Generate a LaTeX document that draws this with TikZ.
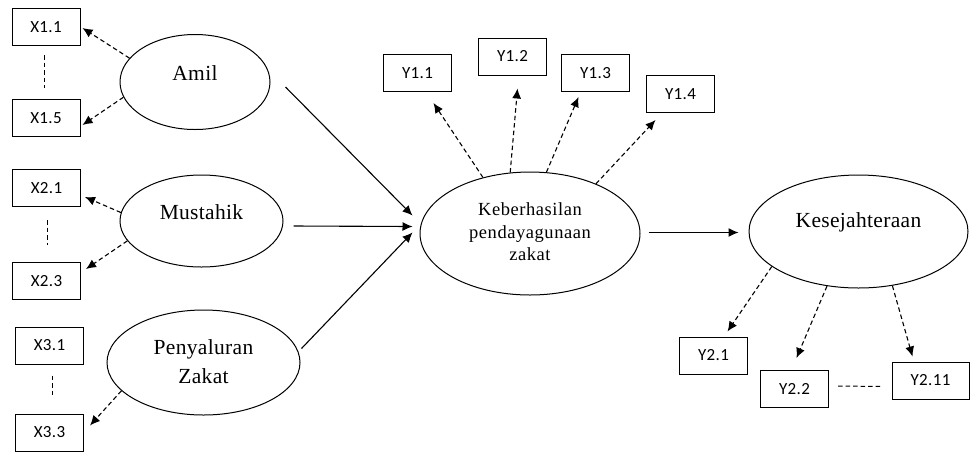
\documentclass[tikz,border=0pt]{standalone}
\usepackage{fontspec}
\setmainfont{Liberation Serif}
\newfontfamily\latfont[LetterSpace=1.5]{Liberation Serif}
\newfontfamily\kebfont[LetterSpace=3]{Liberation Serif}
\newfontfamily\boxfont[LetterSpace=2]{Carlito}
\usetikzlibrary{shapes.geometric,arrows.meta,calc}
\begin{document}
\begin{tikzpicture}[x=1pt,y=-1pt,
  ind/.style={draw, line width=1pt, minimum width=68pt, minimum height=37pt, inner sep=0pt,
    font=\boxfont\fontsize{17}{19}\selectfont},
  lat/.style={draw, ellipse, line width=1pt, inner sep=0pt},
  lattext/.style={font=\latfont\fontsize{21.5}{29}\selectfont, align=center, inner sep=0pt},
  meas/.style={line width=1.1pt, dash pattern=on 4.5pt off 3pt, -{Latex[length=10pt,width=9pt]}},
  struct/.style={line width=1.1pt, -{Latex[length=10pt,width=9pt]}},
  sepline/.style={line width=1pt, dash pattern=on 4.5pt off 3pt}]
\useasboundingbox (0,0) rectangle (971,451);
\fill[white] (0,0) rectangle (971,451);

% indicator boxes
\node[ind] (x11) at (46,27) {X1.1};
\node[ind] (x15) at (46,118) {X1.5};
\node[ind] (x21) at (46.5,188) {X2.1};
\node[ind] (x23) at (46.5,281) {X2.3};
\node[ind] (x31) at (49.5,345.5) {X3.1};
\node[ind] (x33) at (49.5,432.5) {X3.3};
\node[ind] (y11) at (417.5,73) {Y1.1};
\node[ind] (y12) at (512.5,56.5) {Y1.2};
\node[ind] (y13) at (595.5,73) {Y1.3};
\node[ind] (y14) at (680.5,94) {Y1.4};
\node[ind] (y21) at (713.5,355.5) {Y2.1};
\node[ind] (y22) at (794.5,389) {Y2.2};
\node[ind, minimum width=77pt] (y211) at (930.5,380.5) {Y2.11};

% latent variables
\node[lat, minimum width=150pt, minimum height=95pt] (amil) at (195,82) {};
\node[lattext] (amilt) at (195,73) {Amil};
\node[lat, minimum width=163pt, minimum height=92pt] (must) at (201.5,221) {};
\node[lattext] (mustt) at (201.5,212) {Mustahik};
\node[lat, minimum width=193pt, minimum height=105pt] (pen) at (203.5,362.5) {};
\node[lattext] (pent) at (203.5,362) {Penyaluran\\Zakat};
\node[lat, minimum width=220pt, minimum height=123pt] (keb) at (530,233.5) {};
\node[lattext, font=\kebfont\fontsize{18.5}{22.5}\selectfont] (kebt) at (530,232) {Keberhasilan\\pendayagunaan\\zakat};
\node[lat, minimum width=219pt, minimum height=113pt] (kes) at (858.5,231.5) {};
\node[lattext] (kest) at (858.5,222) {Kesejahteraan};

% measurement arrows
\draw[meas] (amil.160) -- ($(x11.east)+(2,1)$);
\draw[meas] (amil.192) -- ($(x15.east)+(2,7)$);
\draw[meas] (must.174) -- ($(x21.east)+(4,9)$);
\draw[meas] (must.195) -- ($(x23.east)+(5,-12)$);
\draw[meas] (pen.199) -- ($(x33.east)+(6,-7)$);
\draw[meas] (keb.130) -- ($(y11.south)+(16,11)$);
\draw[meas] (keb.108) -- ($(y12.south)+(5,13)$);
\draw[meas] (keb.75) -- ($(y13.south)+(-17,5)$);
\draw[meas] (keb.37) -- ($(y14.south)+(-25,7)$);
\draw[meas] (kes.202) -- ($(y21.north)+(14,-5)$);
\draw[meas] (kes.240) -- ($(y22.north)+(2,-12)$);
\draw[meas] (kes.302) -- ($(y211.north)+(-18,-5)$);

% separators
\draw[sepline] ($(x11.south)+(-2,9)$) -- ($(x15.north)+(-2,-11)$);
\draw[sepline] ($(x21.south)+(1,13)$) -- ($(x23.north)+(1,-17)$);
\draw[sepline] ($(x31.south)+(3,11)$) -- ($(x33.north)+(3,-16)$);
\draw[sepline] ($(y22.east)+(9,-3)$) -- ($(y211.west)+(-9,6)$);

% structural arrows
\draw[struct] ($(amil.east)+(15,5)$) -- ($(keb.west)+(-7,-18)$);
\draw[struct] ($(must.east)+(10,5)$) -- ($(keb.west)+(-7,-7)$);
\draw[struct] ($(pen.east)+(1,-14)$) -- ($(keb.west)+(-7,-1)$);
\draw[struct] ($(keb.east)+(8,-1)$) -- ($(kes.west)+(-10,1)$);
\end{tikzpicture}
\end{document}
